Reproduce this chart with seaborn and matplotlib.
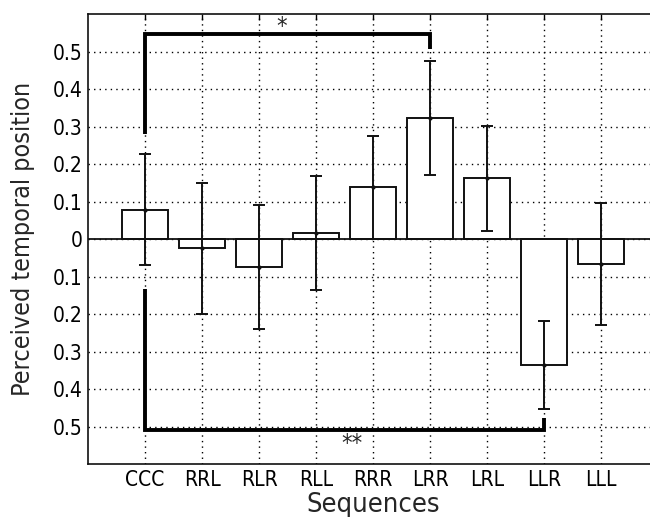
import seaborn as sns
import matplotlib.pyplot as plt
import pandas as pd

sequences = ["CCC", "RRL", "RLR", "RLL", "RRR", "LRR", "LRL", "LLR", "LLL"]
means = [0.079, -0.025, -0.074, 0.017, 0.138, 0.323, 0.163, -0.336, -0.067]
err_low = [-0.07, -0.20, -0.24, -0.135, 0.001, 0.171, 0.022, -0.452, -0.23]
err_high = [0.227, 0.15, 0.092, 0.168, 0.275, 0.476, 0.302, -0.218, 0.096]

yticks = [-0.5, -0.4, -0.3, -0.2, -0.1, 0, 0.1, 0.2, 0.3, 0.4, 0.5]
ytick_labels = ["0.5", "0.4", "0.3", "0.2", "0.1", "0", "0.1", "0.2", "0.3", "0.4", "0.5"]

df = pd.DataFrame({"Sequence": sequences, "Mean": means})

sns.set_style("white")
plt.rcParams['font.family'] = ['DejaVu Sans']
plt.rcParams['font.stretch'] = 'condensed'

fig = plt.figure(figsize=(6.5, 5.17), dpi=100)
ax = fig.add_axes([0.1354, 0.1025, 0.877, 0.870])

sns.barplot(data=df, x="Sequence", y="Mean", color="white", edgecolor="#111111",
            linewidth=1.4, width=0.8, errorbar=None, ax=ax, zorder=2)

x = list(range(len(sequences)))
lower = [m - lo for m, lo in zip(means, err_low)]
upper = [hi - m for m, hi in zip(means, err_high)]
ax.errorbar(x, means, yerr=[lower, upper], fmt='.', color="#111111", markersize=4,
            elinewidth=1.4, capsize=4, capthick=1.4, zorder=3)

ax.axhline(0, color="#111111", lw=1.3, zorder=2.5)

# significance brackets
ax.plot([0, 0, 5, 5], [0.28, 0.547, 0.547, 0.507], color="k", lw=2.8, zorder=4,
        solid_joinstyle='miter', solid_capstyle='butt')
ax.text(2.4, 0.565, "*", ha="center", va="center", fontsize=17)
ax.plot([0, 0, 7, 7], [-0.134, -0.51, -0.51, -0.478], color="k", lw=2.8, zorder=4,
        solid_joinstyle='miter', solid_capstyle='butt')
ax.text(3.63, -0.547, "**", ha="center", va="center", fontsize=17)

ax.set_xlim(-1, 9)
ax.set_ylim(-0.6, 0.6)
ax.set_yticks(yticks)
ax.set_yticklabels(ytick_labels)
ax.set_xticks(x)
ax.set_xticklabels(sequences)

ax.grid(True, color="k", linestyle=(0, (1, 3)), lw=1.0, zorder=0)
ax.set_axisbelow(True)
ax.tick_params(direction="in", length=4, width=1, top=True, right=True,
               labelsize=15, colors="black", pad=4)
for s in ax.spines.values():
    s.set_color("#111111")
    s.set_linewidth(1.2)

ax.set_xlabel("Sequences", fontsize=19.5, labelpad=2)
ax.set_ylabel("Perceived temporal position", fontsize=18, labelpad=13)

fig.savefig("out.png", dpi=100)
